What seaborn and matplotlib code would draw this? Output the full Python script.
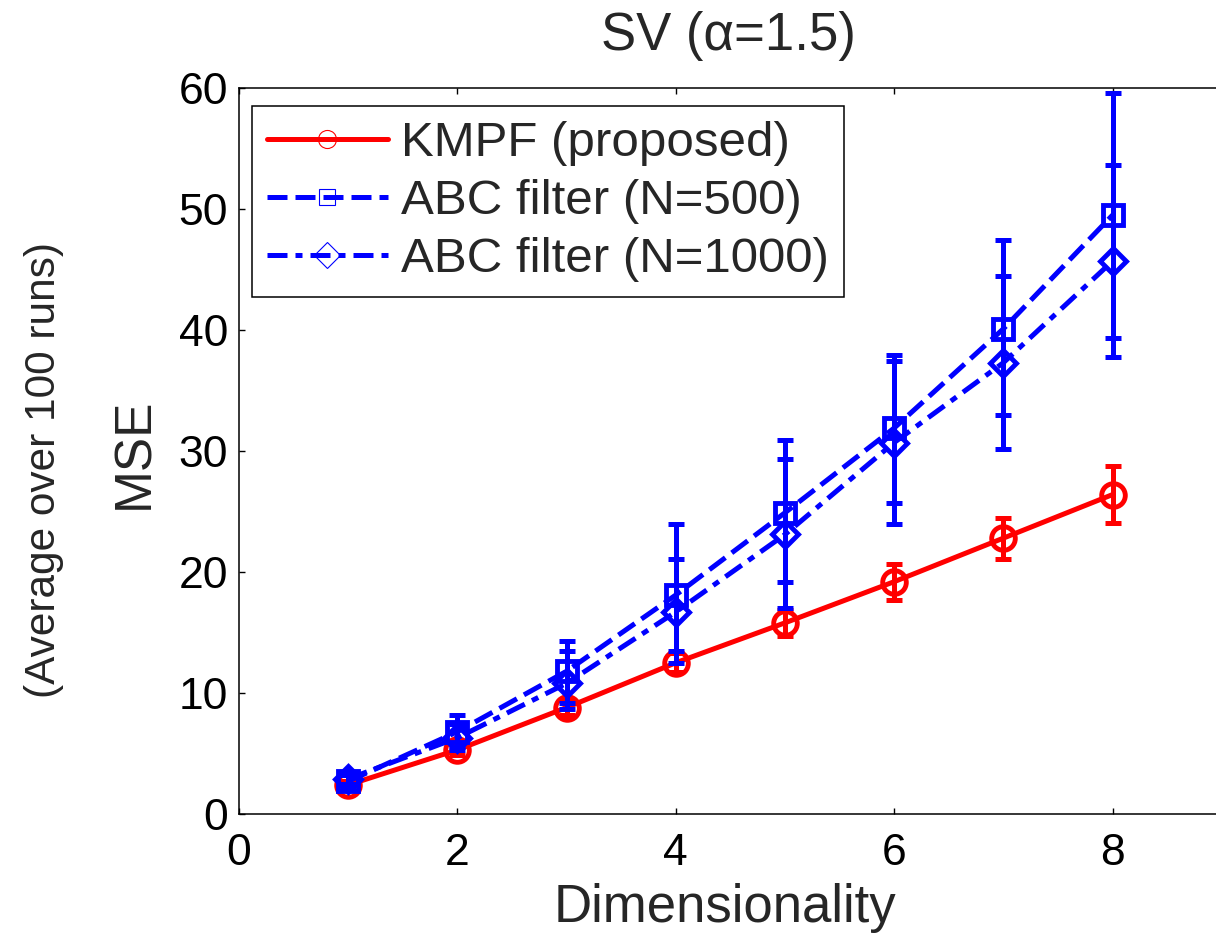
import numpy as np
import pandas as pd
import matplotlib
matplotlib.use("Agg")
import matplotlib.pyplot as plt
from matplotlib.lines import Line2D
import seaborn as sns

# ---------------- data ----------------
dims = [1, 2, 3, 4, 5, 6, 7, 8]

kmpf = [2.4, 5.3, 8.8, 12.5, 15.8, 19.2, 22.8, 26.4]
kmpf_err = [0.3, 0.4, 0.6, 0.8, 1.1, 1.5, 1.7, 2.35]

abc500 = [2.7, 6.8, 11.8, 18.1, 24.9, 31.9, 40.1, 49.5]
abc500_low = [2.2, 5.3, 8.7, 12.5, 17.0, 24.0, 30.2, 37.8]
abc500_high = [3.2, 8.2, 14.3, 24.0, 30.9, 37.9, 47.4, 59.6]

abc1000 = [2.9, 6.3, 10.8, 16.7, 23.1, 30.7, 37.3, 45.7]
abc1000_low = [2.5, 5.5, 9.2, 13.5, 19.2, 25.7, 33.0, 39.3]
abc1000_high = [3.3, 7.4, 13.5, 21.1, 29.3, 37.4, 44.5, 53.6]

labels = ["KMPF (proposed)", "ABC filter (N=500)", "ABC filter (N=1000)"]
title = "SV (\u03b1=1.5)"
xlabel = "Dimensionality"
ylabel = "MSE"
ylabel2 = "(Average over 100 runs)"
xticks = [0, 2, 4, 6, 8]
yticks = [0, 10, 20, 30, 40, 50, 60]

# ---------------- style ----------------
sns.set_style("ticks")
FONT = ["Liberation Sans", "DejaVu Sans"]
plt.rcParams["font.family"] = FONT

W, H = 1216, 935
fig = plt.figure(figsize=(W / 100, H / 100), dpi=100)
px_per_unit = 109.2
ax_left = 239 / W
ax_bottom = 1 - 814 / H
ax_height = (814 - 88) / H
ax_width = 9 * px_per_unit / W
ax = fig.add_axes([ax_left, ax_bottom, ax_width, ax_height])

RED = (1, 0, 0)
BLUE = (0, 0, 1)
LW = 3.6
dash_500 = (0, (4.0, 1.6))
dash_1000 = (0, (4.0, 1.6, 1.4, 1.6))

x = np.array(dims)

# KMPF
ax.errorbar(x, kmpf, yerr=kmpf_err, fmt="none", ecolor=RED,
            elinewidth=LW, capsize=5.5, capthick=LW, zorder=2)
sns.lineplot(x=x, y=kmpf, ax=ax, color=RED, lw=LW, marker="o",
             markersize=17, markerfacecolor="none", markeredgecolor=RED,
             markeredgewidth=3.5, zorder=3)

# ABC N=500
a5 = np.array(abc500)
ax.errorbar(x, a5, yerr=[a5 - np.array(abc500_low), np.array(abc500_high) - a5],
            fmt="none", ecolor=BLUE, elinewidth=LW, capsize=5.5, capthick=LW, zorder=4)
sns.lineplot(x=x, y=a5, ax=ax, color=BLUE, lw=LW, linestyle=dash_500, marker="s",
             markersize=15, markerfacecolor="none", markeredgecolor=BLUE,
             markeredgewidth=3.5, zorder=5)

# ABC N=1000
a10 = np.array(abc1000)
ax.errorbar(x, a10, yerr=[a10 - np.array(abc1000_low), np.array(abc1000_high) - a10],
            fmt="none", ecolor=BLUE, elinewidth=LW, capsize=5.5, capthick=LW, zorder=6)
sns.lineplot(x=x, y=a10, ax=ax, color=BLUE, lw=LW, linestyle=dash_1000, marker="D",
             markersize=13.5, markerfacecolor="none", markeredgecolor=BLUE,
             markeredgewidth=3.5, zorder=7)

ax.set_xlim(0, 9)
ax.set_ylim(0, 60)
ax.set_xticks(xticks)
ax.set_yticks(yticks)
ax.set_xlabel("")
ax.set_ylabel("")
for s in ax.spines.values():
    s.set_color("black")
    s.set_linewidth(1.1)
ax.tick_params(direction="in", length=4.5, width=1.0, labelsize=32,
               top=True, right=True, colors="black")
ax.tick_params(axis="x", pad=14)
ax.tick_params(axis="y", pad=8)

# legend
handles = [
    Line2D([], [], color=RED, lw=LW, marker="o", markersize=13,
           markerfacecolor="none", markeredgecolor=RED, markeredgewidth=0.8),
    Line2D([], [], color=BLUE, lw=LW, linestyle=dash_500, marker="s", markersize=11,
           markerfacecolor="none", markeredgecolor=BLUE, markeredgewidth=0.8),
    Line2D([], [], color=BLUE, lw=LW, linestyle=dash_1000, marker="D", markersize=13,
           markerfacecolor="none", markeredgecolor=BLUE, markeredgewidth=0.8),
]
leg = ax.legend(handles, labels, loc="upper left",
                bbox_to_anchor=((252 - 239) / (ax_width * W), (814 - 106) / (814 - 88)),
                borderaxespad=0, fontsize=35.5, frameon=True, fancybox=False,
                edgecolor="black", framealpha=1, handlelength=2.45,
                handletextpad=0.28, labelspacing=0.27, borderpad=0.3)
leg.get_frame().set_linewidth(1.1)

# texts
fig.text(728 / W, 1 - 50 / H, title, ha="center", va="baseline", fontsize=38)
fig.text(725 / W, 1 - 922 / H, xlabel, ha="center", va="baseline", fontsize=38)
fig.text(148 / W, 1 - 453 / H, ylabel, ha="center", va="baseline", fontsize=37,
         rotation=90, rotation_mode="anchor")
fig.text(55 / W, 1 - 470 / H, ylabel2, ha="center", va="baseline", fontsize=30.5,
         rotation=90, rotation_mode="anchor")

fig.savefig("out.png", dpi=100)
